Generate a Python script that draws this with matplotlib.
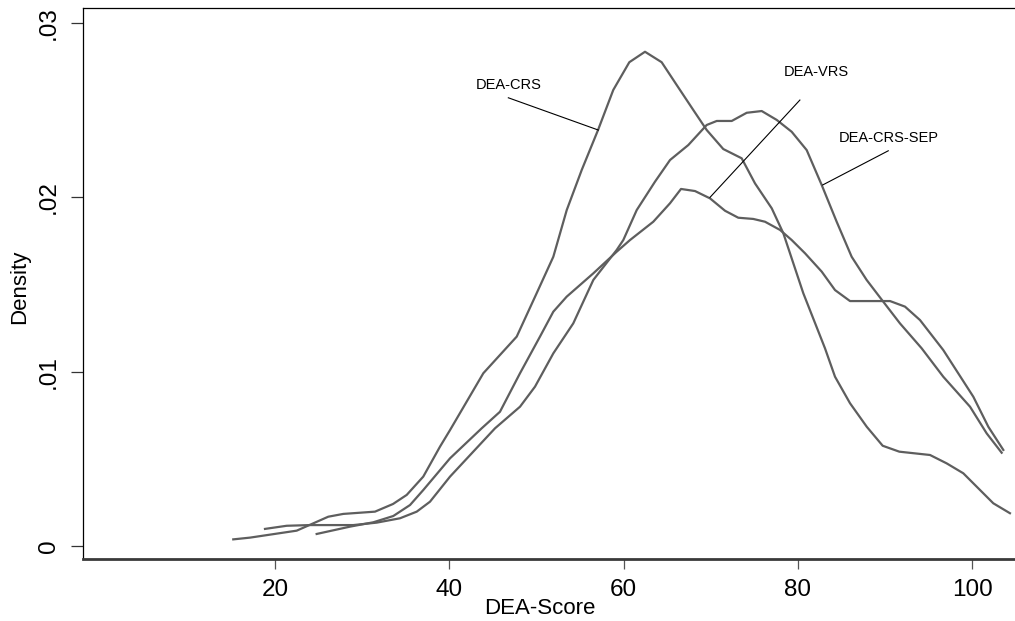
import numpy as np
import matplotlib
matplotlib.use( 'Agg' )
import matplotlib.pyplot as plt

plt.rcParams['font.family'] = [ 'Liberation Sans', 'DejaVu Sans' ]

# kernel density estimates
crs_x = [ 15.21, 17.13, 22.49, 26.11, 27.83, 31.47, 33.54, 35.11, 37.01, 38.93, 40.08, 43.90, 47.73, 50.02,
          51.93, 53.47, 55.19, 57.06, 58.81, 60.65, 62.45, 64.36, 66.09, 67.99, 69.53, 71.43, 73.54, 75.07,
          76.99, 78.32, 80.61, 83.10, 84.25, 85.97, 87.89, 89.72, 91.63, 95.15, 97.06, 98.97, 100.69, 102.41, 104.32 ]
crs_y = [ 0.00038, 0.00048, 0.00088, 0.00168, 0.00184, 0.00197, 0.00241, 0.00293, 0.00398, 0.00570, 0.00665,
          0.00991, 0.01201, 0.01450, 0.01659, 0.01927, 0.02157, 0.02386, 0.02616, 0.02775, 0.02835, 0.02775,
          0.02644, 0.02501, 0.02386, 0.02277, 0.02224, 0.02080, 0.01937, 0.01794, 0.01450, 0.01134, 0.00971,
          0.00819, 0.00684, 0.00575, 0.00541, 0.00522, 0.00474, 0.00417, 0.00331, 0.00245, 0.00188 ]

sep_x = [ 18.85, 21.34, 24.01, 28.98, 31.67, 34.34, 36.26, 37.78, 40.08, 45.24, 48.11, 49.83, 51.93, 54.22,
          56.52, 59.20, 59.96, 61.50, 63.60, 65.32, 67.42, 69.53, 70.68, 72.40, 74.12, 75.84, 77.56, 79.28,
          81.00, 82.72, 84.44, 86.16, 87.88, 89.79, 91.70, 94.19, 96.67, 99.74, 101.65, 103.37 ]
sep_y = [ 0.00098, 0.00116, 0.00120, 0.00120, 0.00134, 0.00159, 0.00197, 0.00254, 0.00398, 0.00675, 0.00799,
          0.00914, 0.01105, 0.01277, 0.01526, 0.01698, 0.01755, 0.01927, 0.02090, 0.02214, 0.02300, 0.02415,
          0.02438, 0.02438, 0.02485, 0.02495, 0.02444, 0.02376, 0.02271, 0.02071, 0.01860, 0.01659, 0.01526,
          0.01401, 0.01277, 0.01134, 0.00971, 0.00799, 0.00646, 0.00535 ]

vrs_x = [ 24.78, 28.60, 31.28, 33.57, 35.49, 37.01, 40.08, 43.71, 45.81, 48.11, 50.40, 51.93, 53.46, 56.52,
          59.20, 60.73, 63.40, 65.32, 66.58, 68.19, 69.91, 71.63, 73.15, 74.87, 76.22, 77.94, 79.28, 80.81,
          82.72, 84.25, 85.97, 90.56, 92.28, 94.00, 96.67, 100.12, 101.84, 103.56 ]
vrs_y = [ 0.00069, 0.00111, 0.00136, 0.00172, 0.00235, 0.00321, 0.00503, 0.00675, 0.00770, 0.00991, 0.01201,
          0.01344, 0.01430, 0.01564, 0.01688, 0.01755, 0.01860, 0.01966, 0.02048, 0.02036, 0.01994, 0.01923,
          0.01883, 0.01876, 0.01860, 0.01813, 0.01755, 0.01679, 0.01574, 0.01468, 0.01405, 0.01405, 0.01373,
          0.01296, 0.01124, 0.00856, 0.00684, 0.00551 ]

# annotations: label, text position, line start, line end
labels = [ 'DEA-CRS', 'DEA-VRS', 'DEA-CRS-SEP' ]
text_xy = [ ( 46.77, 0.02644 ), ( 82.07, 0.02721 ), ( 90.42, 0.02339 ) ]
line_from = [ ( 46.77, 0.02571 ), ( 80.22, 0.02558 ), ( 90.36, 0.02267 ) ]
line_to = [ ( 57.09, 0.02386 ), ( 69.91, 0.02000 ), ( 82.84, 0.02071 ) ]

xticks = [ 20, 40, 60, 80, 100 ]
yticks = [ 0, 0.01, 0.02, 0.03 ]
ytick_labels = [ '0', '.01', '.02', '.03' ]

fig = plt.figure( figsize=( 10.15, 6.21 ), dpi=100 )
ax = fig.add_axes( [ 83/1015, 62/621, 932/1015, 551/621 ] )

curve_col = '#5e5e5e'
for xs, ys in [ ( crs_x, crs_y ), ( sep_x, sep_y ), ( vrs_x, vrs_y ) ]:
    ax.plot( xs, ys, color=curve_col, linewidth=1.6, solid_joinstyle='round' )

for lab, txy, p0, p1 in zip( labels, text_xy, line_from, line_to ):
    ax.plot( [ p0[0], p1[0] ], [ p0[1], p1[1] ], color='black', linewidth=0.8 )
    ax.text( txy[0], txy[1], lab, ha='center', va='center', fontsize=10.5 )

ax.set_xlim( -2.03, 104.9 )
ax.set_ylim( -0.000746, 0.03086 )

ax.set_xticks( xticks )
ax.set_xticklabels( [ str( t ) for t in xticks ], fontsize=17.5 )
ax.set_yticks( yticks )
ax.set_yticklabels( ytick_labels, fontsize=17.5, rotation=90, va='center' )
ax.tick_params( axis='x', direction='out', length=7.2, width=0.9, color='#555555', pad=7 )
ax.tick_params( axis='y', direction='out', length=8.6, width=0.9, color='#333333', pad=8 )

ax.spines['right'].set_visible( False )
ax.spines['top'].set_linewidth( 0.9 )
ax.spines['left'].set_linewidth( 0.9 )
ax.spines['bottom'].set_linewidth( 2.0 )
ax.spines['bottom'].set_color( '#3a3a3a' )

ax.set_xlabel( 'DEA-Score', fontsize=16 )
ax.set_ylabel( 'Density', fontsize=16 )
ax.xaxis.set_label_coords( 0.4903, -0.070 )
ax.yaxis.set_label_coords( -0.057, 0.4936 )

fig.savefig( 'out.png', dpi=100 )
